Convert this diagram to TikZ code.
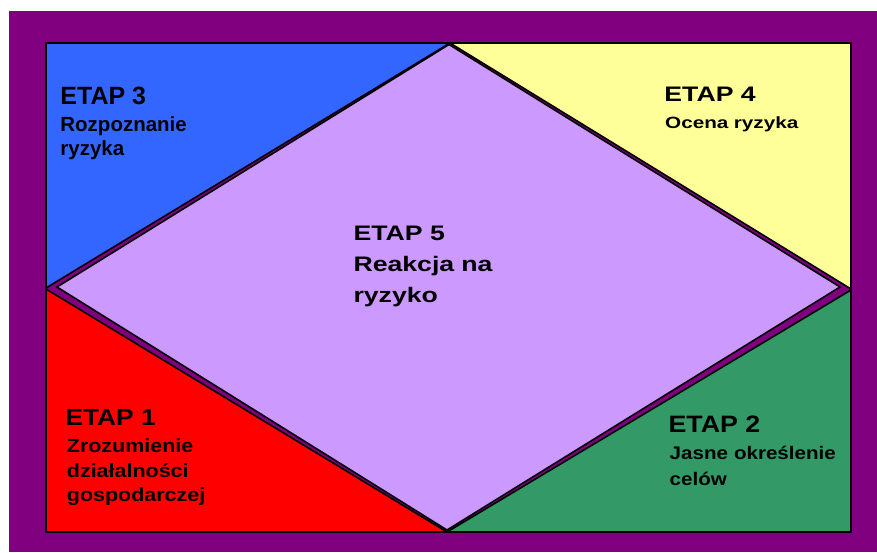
\documentclass[tikz,border=0pt]{standalone}
\usepackage{fontspec}
\setmainfont{Liberation Sans}
\newfontfamily\etapwide[FakeStretch=1.27]{Liberation Sans}
\newfontfamily\etapmid[FakeStretch=1.13]{Liberation Sans}
\definecolor{etappurple}{HTML}{800080}
\definecolor{etapblue}{HTML}{3366FF}
\definecolor{etapyellow}{HTML}{FFFF99}
\definecolor{etaplilac}{HTML}{CC99FF}
\definecolor{etapred}{HTML}{FF0000}
\definecolor{etapgreen}{HTML}{339966}
\begin{document}
\begin{tikzpicture}[x=1pt,y=-1pt,
        piece/.style={draw=black,line width=1.6pt},
        head/.style={anchor=base west,inner sep=0pt,text=black},
        body/.style={anchor=base west,inner sep=0pt,text=black,text width=220pt,align=left}]
        \useasboundingbox (0,0) rectangle (877,552);
        \fill[white] (0,0) rectangle (877,552);
        \fill[etappurple] (9,11) rectangle (877,552);
        \draw[piece,fill=etapblue] (46,43) -- (450,43) -- (46,288) -- cycle;
        \draw[piece,fill=etapyellow] (450,43) -- (851,43) -- (851,289) -- cycle;
        \draw[piece,fill=etapgreen] (851,290) -- (851,532) -- (447,532) -- cycle;
        \draw[piece,fill=etapred] (46,289) -- (46,532) -- (447,532) -- cycle;
        \draw[piece,fill=etaplilac] (449,44.5) -- (840,287) -- (447,530) -- (57,287) -- cycle;
        \node[head,font=\fontsize{25}{30}\selectfont\bfseries] (h3) at (60.2,104.3) {ETAP 3};
        \node[body,font=\fontsize{20.5}{23.3}\selectfont\bfseries] (b3) at (60.2,131.7) {Rozpoznanie\\ryzyka};
        \node[head,font=\etapwide\fontsize{21}{26}\selectfont\bfseries] (h4) at (664.2,101.7) {ETAP 4};
        \node[body,font=\etapwide\fontsize{16.3}{20}\selectfont\bfseries] (b4) at (665,128.3) {Ocena ryzyka};
        \node[head,font=\etapwide\fontsize{21}{26}\selectfont\bfseries] (h5) at (353.3,240) {ETAP 5};
        \node[body,font=\etapwide\fontsize{21}{30.5}\selectfont\bfseries] (b5) at (353.3,271.7) {Reakcja na\\ryzyko};
        \node[head,font=\etapmid\fontsize{23.3}{28}\selectfont\bfseries] (h1) at (65.3,425) {ETAP 1};
        \node[body,font=\etapmid\fontsize{19}{24.3}\selectfont\bfseries] (b1) at (66.7,452.7) {Zrozumienie\\działalności\\gospodarczej};
        \node[head,font=\etapmid\fontsize{23.7}{28}\selectfont\bfseries] (h2) at (668.3,432.7) {ETAP 2};
        \node[body,font=\etapmid\fontsize{18.2}{26}\selectfont\bfseries] (b2) at (669.5,459) {Jasne określenie\\celów};
\end{tikzpicture}
\end{document}
